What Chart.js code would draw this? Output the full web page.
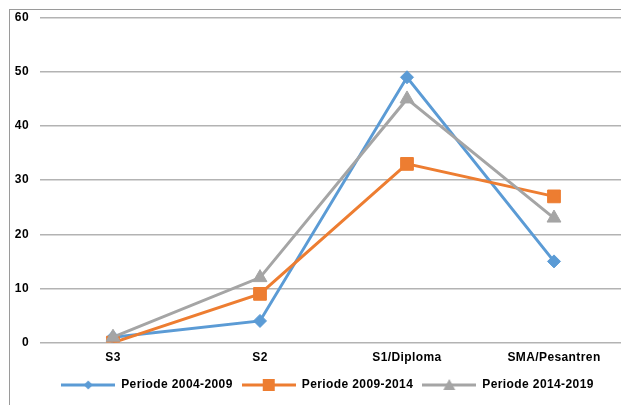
<!DOCTYPE html>
<html>
<head>
<meta charset="utf-8">
<script src="https://cdn.jsdelivr.net/npm/chart.js@4.4.1/dist/chart.umd.min.js"></script>
<style>
  html, body { margin: 0; padding: 0; background: #fff; overflow: hidden; }
  body { width: 621px; height: 405px; position: relative; }
  .frame { position: absolute; left: 9px; top: 9px; width: 700px; height: 500px;
           border-left: 1px solid #9a9a9a; border-top: 1px solid #9a9a9a; }
  .wrap { position: absolute; left: 0; top: 0; width: 655px; height: 405px; }
</style>
</head>
<body>
<div class="frame"></div>
<div class="wrap"><canvas id="chart"></canvas></div>
<script>
/* ---- Data ---- */
const categories = ['S3', 'S2', 'S1/Diploma', 'SMA/Pesantren'];
const seriesNames = ['Periode 2004-2009', 'Periode 2009-2014', 'Periode 2014-2019'];
const periode0409 = [1, 4, 49, 15];
const periode0914 = [0, 9, 33, 27];
const periode1419 = [1, 12, 45, 23];
const yTicks = [0, 10, 20, 30, 40, 50, 60];

const COLORS = ['#5B9BD5', '#ED7D31', '#A5A5A5'];
const TICK_FONT = { family: "'Liberation Sans', Arial, sans-serif", size: 12, weight: 'bold' };
const LEGEND_FONT = { family: "'Liberation Sans', Arial, sans-serif", size: 12, weight: 'bold' };

/* ---- Legend icon: line + marker ---- */
function legendIcon(color, shape) {
  const c = document.createElement('canvas');
  c.width = 54; c.height = 14;
  const ctx = c.getContext('2d');
  ctx.strokeStyle = color;
  ctx.fillStyle = color;
  ctx.lineWidth = 3;
  ctx.beginPath(); ctx.moveTo(0, 7); ctx.lineTo(54, 7); ctx.stroke();
  ctx.beginPath();
  if (shape === 'diamond') {
    ctx.moveTo(27, 2.5); ctx.lineTo(31.5, 7); ctx.lineTo(27, 11.5); ctx.lineTo(22.5, 7);
  } else if (shape === 'square') {
    ctx.rect(21, 1, 12, 12);
  } else {
    ctx.moveTo(27, 1); ctx.lineTo(33, 12); ctx.lineTo(21, 12);
  }
  ctx.closePath(); ctx.fill();
  return c;
}

const icons = [
  legendIcon(COLORS[0], 'diamond'),
  legendIcon(COLORS[1], 'square'),
  legendIcon(COLORS[2], 'triangle'),
];

function makeSet(i, data, style, radius, order) {
  return {
    label: seriesNames[i],
    data: data,
    borderColor: COLORS[i],
    backgroundColor: COLORS[i],
    borderWidth: 3,
    pointStyle: style,
    pointRadius: radius,
    pointHoverRadius: radius,
    pointBorderWidth: 1,
    tension: 0,
    order: order,
  };
}

// Excel-like text: slightly wider letter spacing (reset each time the canvas is resized)
const textSpacing = {
  id: 'textSpacing',
  beforeLayout(chart) { chart.ctx.letterSpacing = '0.4px'; },
  beforeDraw(chart) { chart.ctx.letterSpacing = '0.4px'; },
  // legend sits centred under the whole chart frame
  afterLayout(chart) {
    const lg = chart.legend;
    lg.left += 6.5; lg.right += 6.5;
    lg.top -= 3; lg.bottom -= 3;
  },
};

new Chart(document.getElementById('chart'), {
  type: 'line',
  data: {
    labels: categories,
    datasets: [
      makeSet(0, periode0409, 'rectRot', 6.5, 3),
      makeSet(1, periode0914, 'rect', 9, 2),
      makeSet(2, periode1419, 'triangle', 8, 1),
    ],
  },
  options: {
    responsive: true,
    maintainAspectRatio: false,
    animation: false,
    layout: { padding: { left: 14.5, right: 27.5, top: 14, bottom: 1 } },
    plugins: {
      tooltip: { enabled: false },
      legend: {
        position: 'bottom',
        labels: {
          color: '#000',
          font: LEGEND_FONT,
          usePointStyle: true,
          pointStyleWidth: 54,
          padding: 9,
          generateLabels: () => seriesNames.map((name, i) => ({
            text: name,
            pointStyle: icons[i],
            fillStyle: COLORS[i],
            strokeStyle: COLORS[i],
            lineWidth: 0,
            datasetIndex: i,
            hidden: false,
          })),
        },
      },
    },
    scales: {
      x: {
        offset: true,
        grid: { display: false, drawTicks: false },
        border: { display: false },
        ticks: { color: '#000', font: TICK_FONT, padding: 8 },
      },
      y: {
        min: 0,
        max: 60,
        afterFit: (scale) => { scale.width = 25; },
        afterBuildTicks: (scale) => { scale.ticks = yTicks.map(v => ({ value: v })); },
        grid: { color: '#B3B3B3', lineWidth: 1.5, drawTicks: false },
        border: { display: false },
        ticks: { color: '#000', font: TICK_FONT, padding: 10.5 },
      },
    },
  },
  plugins: [textSpacing],
});
</script>
</body>
</html>
